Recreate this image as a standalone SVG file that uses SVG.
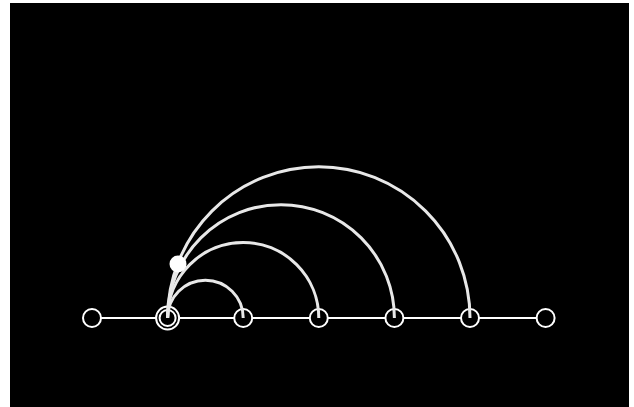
<svg xmlns="http://www.w3.org/2000/svg" width="634" height="407" viewBox="0 0 634 407">
<style>
.bg{fill:#000}
.base{stroke:#fff;stroke-width:2;fill:none}
.node{fill:#000;stroke:#fff;stroke-width:2}
.arc{fill:none;stroke:#e8e8e8;stroke-width:3}
.dot{fill:#fff}
</style>
<rect class="bg" x="10" y="3" width="619" height="404"/>
<line class="base" x1="92" y1="318" x2="545.6" y2="318"/>
<g id="n0"><circle class="node" cx="92" cy="318" r="9"/></g>
<g id="n1"><circle class="node" cx="167.6" cy="318" r="11.5"/><circle class="node" cx="167.6" cy="318" r="8"/></g>
<g id="n2"><circle class="node" cx="243.2" cy="318" r="9"/></g>
<g id="n3"><circle class="node" cx="318.8" cy="318" r="9"/></g>
<g id="n4"><circle class="node" cx="394.4" cy="318" r="9"/></g>
<g id="n5"><circle class="node" cx="470" cy="318" r="9"/></g>
<g id="n6"><circle class="node" cx="545.6" cy="318" r="9"/></g>
<g id="connectors">
<path class="arc" d="M167.6 318 A37.8 37.8 0 0 1 243.2 318"/>
<path class="arc" d="M167.6 318 A75.6 75.6 0 0 1 318.8 318"/>
<path class="arc" d="M167.6 318 A113.4 113.4 0 0 1 394.4 318"/>
<path class="arc" d="M167.6 318 A151.2 151.2 0 0 1 470 318"/>
</g>
<g id="marker"><circle class="dot" cx="178" cy="264" r="8.5"/></g>
</svg>
